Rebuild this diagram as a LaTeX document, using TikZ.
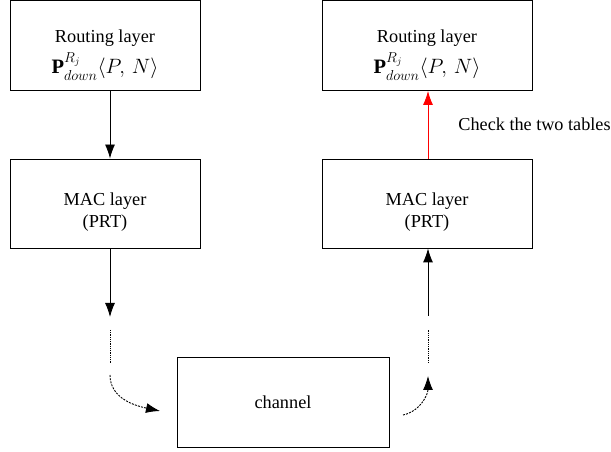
\documentclass[tikz,border=0pt]{standalone}
\usepackage{amsmath}
\usepackage{fontspec}
\setmainfont{Liberation Serif}
\usetikzlibrary{arrows.meta}

\begin{document}
\begin{tikzpicture}[x=1pt, y=1pt, line width=0.9pt,
  layer/.style = {draw, rectangle, inner sep=0pt, align=center, font=\fontsize{18.3}{26}\selectfont},
  tip/.style = {-{Latex[length=14pt, width=10pt]}},
  dots/.style = {dash pattern=on 1pt off 0.8pt},
  dashes/.style = {dash pattern=on 2pt off 1.2pt}]
\useasboundingbox (0,0) rectangle (611,452);
\node[layer, minimum width=190, minimum height=90] (r1) at (105,406.5) {\rule{0pt}{32pt}Routing layer\\[5pt] {\fontsize{20.5}{24}\selectfont$\mathbf{P}^{R_j}_{down}\langle P,\,N\rangle$}};
\node[layer, minimum width=190, minimum height=89] (m1) at (105,248.5) {\rule{0pt}{30pt}MAC layer\\[-4pt](PRT)};
\node[layer, minimum width=210, minimum height=90] (r2) at (427,406.5) {\rule{0pt}{32pt}Routing layer\\[5pt] {\fontsize{20.5}{24}\selectfont$\mathbf{P}^{R_j}_{down}\langle P,\,N\rangle$}};
\node[layer, minimum width=210, minimum height=89] (m2) at (427,248.5) {\rule{0pt}{30pt}MAC layer\\[-4pt](PRT)};
\node[layer, minimum width=212, minimum height=90] (ch) at (283,50) {channel};
\node[anchor=west, inner sep=0pt, font=\fontsize{18.2}{20}\selectfont] (chk) at (458,328) {Check the two tables};
% left side, going down
\coordinate (a1) at (110,135);
\coordinate (a2) at (110,122);
\coordinate (a3) at (110,89);
\coordinate (a4) at (110,77);
\coordinate (a5) at (160,41);
% right side, going up
\coordinate (b1) at (403,37);
\coordinate (b2) at (428,76);
\coordinate (b3) at (428,89);
\coordinate (b4) at (428,123);
\coordinate (b5) at (428,136);
\draw[tip] ([xshift=5pt]r1.south) -- ([xshift=5pt]m1.north);
\draw[tip] ([xshift=5pt]m1.south) -- (a1);
\draw[dots] (a2) -- (a3);
\draw[tip, dashes] (a4) to[out=-90, in=168] (a5);
\draw[tip, dashes] (b1) to[out=12, in=-90] (b2);
\draw[dots] (b3) -- (b4);
\draw[tip] (b5) -- ([xshift=1pt]m2.south);
\draw[tip, red] ([xshift=1pt]m2.north) -- ([xshift=1pt]r2.south);
\end{tikzpicture}
\end{document}
